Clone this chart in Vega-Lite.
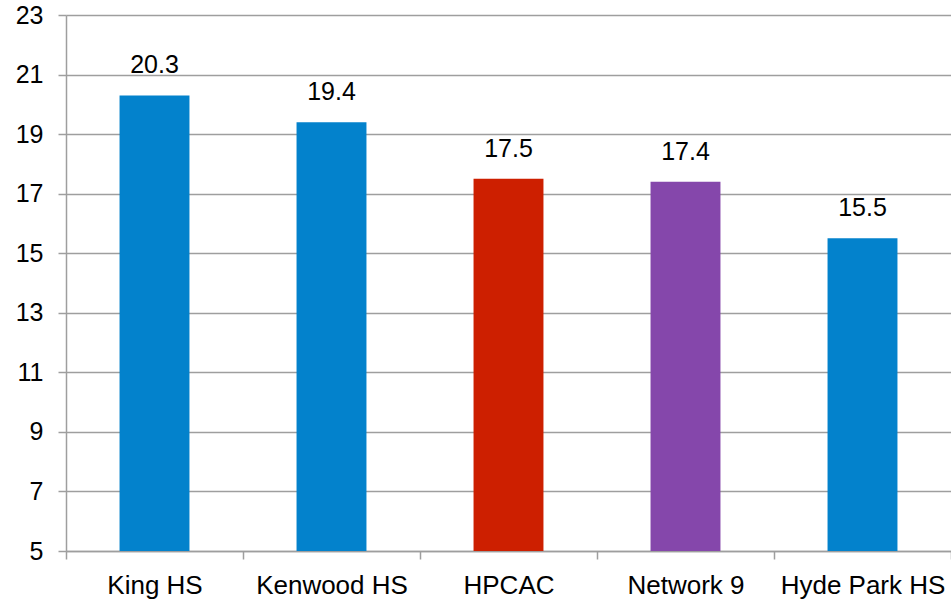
{
  "$schema": "https://vega.github.io/schema/vega-lite/v6.json",
  "width": 885,
  "height": 536,
  "autosize": {"type": "none"},
  "padding": {"left": 66, "top": 15, "right": 0, "bottom": 50},
  "background": "white",
  "config": {
    "font": "Liberation Sans",
    "view": {"stroke": null}
  },
  "data": {
    "values": [
      {"school": "King HS", "value": 20.3},
      {"school": "Kenwood HS", "value": 19.4},
      {"school": "HPCAC", "value": 17.5},
      {"school": "Network 9", "value": 17.4},
      {"school": "Hyde Park HS", "value": 15.5}
    ]
  },
  "encoding": {
    "x": {
      "field": "school",
      "type": "nominal",
      "sort": null,
      "scale": {"paddingInner": 0, "paddingOuter": 0},
      "axis": {
        "title": null,
        "labelAngle": 0,
        "labelFontSize": 26,
        "labelColor": "#000000",
        "labelPadding": 13,
        "tickBand": "extent",
        "tickSize": 8,
        "tickColor": "#9e9e9e",
        "tickWidth": 1.5,
        "domainColor": "#9e9e9e",
        "domainWidth": 1.5,
        "grid": false
      }
    },
    "y": {
      "field": "value",
      "type": "quantitative",
      "scale": {"domain": [5, 23], "zero": false, "nice": false},
      "axis": {
        "title": null,
        "values": [5, 7, 9, 11, 13, 15, 17, 19, 21, 23],
        "labelFontSize": 25,
        "labelColor": "#000000",
        "labelPadding": 15,
        "tickSize": 8,
        "tickColor": "#9e9e9e",
        "tickWidth": 1.5,
        "domainColor": "#9e9e9e",
        "domainWidth": 1.5,
        "gridColor": "#9e9e9e",
        "gridWidth": 1.5
      }
    }
  },
  "layer": [
    {
      "mark": {"type": "bar", "width": {"band": 0.395}},
      "encoding": {
        "y2": {"datum": 5},
        "color": {
          "field": "school",
          "type": "nominal",
          "legend": null,
          "scale": {
            "domain": ["King HS", "Kenwood HS", "HPCAC", "Network 9", "Hyde Park HS"],
            "range": ["#0382CC", "#0382CC", "#CD1F00", "#8547AB", "#0382CC"]
          }
        }
      }
    },
    {
      "mark": {"type": "text", "fontSize": 25, "baseline": "alphabetic", "dy": -22, "color": "#000000"},
      "encoding": {
        "text": {"field": "value", "type": "quantitative", "format": ".1f"}
      }
    }
  ]
}
